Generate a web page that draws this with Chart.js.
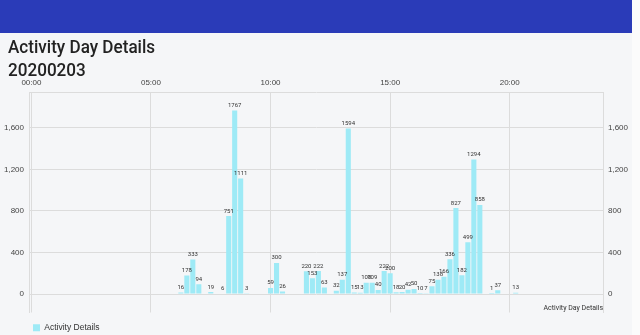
<!DOCTYPE html>
<html lang="en">
  <head>
    <meta charset="UTF-8" />
    <title>Activity Day Details</title>
    <script src="https://cdn.jsdelivr.net/npm/chart.js@4"></script>
    <style>
      * {
        font-family: Roboto, sans-serif;
      }
      html,
      body {
        margin: 0;
        padding: 0;
        width: 640px;
        height: 335px;
        overflow: hidden;
        background: #f5f6f8;
      }
      #topbar {
        position: absolute;
        left: 0;
        top: 0;
        width: 632px;
        height: 33px;
        background: #2a3bb8;
      }
      #side {
        position: absolute;
        right: 0;
        top: 0;
        width: 8px;
        height: 335px;
        background: #fbfbfb;
      }
      h1 {
        position: absolute;
        left: 8px;
        top: 36px;
        margin: 0;
        font-size: 19px;
        line-height: 22.5px;
        font-weight: 500;
        color: #222;
        transform: scaleX(0.9);
        transform-origin: left top;
        z-index: 2;
      }
      #wrap {
        position: absolute;
        left: 0;
        top: 0;
        width: 640px;
        height: 342px;
      }
    </style>
  </head>
  <body>
    <div id="topbar"></div>
    <div id="side"></div>
    <h1>Activity Day Details<br />20200203</h1>
    <div id="wrap"><canvas id="myChart"></canvas></div>
    <script>
      // 15 minute slots that have activity
      const times = [
        "06:15", "06:30", "06:45", "07:00", "07:30", "08:00", "08:15", "08:30",
        "08:45", "09:00", "10:00", "10:15", "10:30", "11:30", "11:45", "12:00",
        "12:15", "12:45", "13:00", "13:15", "13:30", "13:45", "14:00", "14:15",
        "14:30", "14:45", "15:00", "15:15", "15:30", "15:45", "16:00", "16:15",
        "16:30", "16:45", "17:00", "17:15", "17:30", "17:45", "18:00", "18:15",
        "18:30", "18:45", "19:15", "19:30", "20:15",
      ];
      const values = [
        16, 178, 333, 94, 19, 6, 751, 1767,
        1111, 3, 59, 300, 26, 220, 153, 222,
        63, 32, 137, 1594, 15, 13, 108, 109,
        40, 222, 200, 18, 20, 42, 50, 10,
        7, 75, 138, 166, 336, 827, 182, 499,
        1294, 858, 1, 37, 13,
      ];
      const xTickHours = [0, 5, 10, 15, 20];
      const yTicks = [0, 400, 800, 1200, 1600];

      const toHours = (t) => {
        const [h, m] = t.split(":").map(Number);
        return h + m / 60;
      };
      const points = times.map((t, i) => ({ x: toHours(t), y: values[i] }));

      const gridColor = "#dcdcdc";
      const tickColor = "#444";

      // value above every bar
      const barValues = {
        id: "barValues",
        afterDatasetsDraw(chart) {
          const ctx = chart.ctx;
          ctx.save();
          ctx.font = "6px Roboto";
          ctx.fillStyle = "#333";
          ctx.textAlign = "center";
          ctx.textBaseline = "bottom";
          chart.getDatasetMeta(0).data.forEach((bar, i) => {
            ctx.fillText(values[i], bar.x, bar.y - 2);
          });
          ctx.restore();
        },
        afterDraw(chart) {
          // description under the plot, like MPAndroidChart does it
          const ctx = chart.ctx;
          ctx.save();
          ctx.font = "7px Roboto";
          ctx.fillStyle = "#333";
          ctx.textAlign = "right";
          ctx.textBaseline = "alphabetic";
          ctx.fillText("Activity Day Details", chart.chartArea.right, 310);
          ctx.restore();
        },
        afterLayout(chart) {
          chart.legend.left += 22;
        },
      };

      const ctx = document.getElementById("myChart").getContext("2d");
      new Chart(ctx, {
        type: "bar",
        data: {
          datasets: [
            {
              label: "Activity Details",
              data: points,
              backgroundColor: "rgb(158, 234, 246)",
              borderWidth: 0,
              barPercentage: 0.85,
              categoryPercentage: 1,
              yAxisID: "y",
            },
          ],
        },
        plugins: [barValues],
        options: {
          responsive: true,
          maintainAspectRatio: false,
          animation: false,
          layout: { padding: 0 },
          scales: {
            x: {
              type: "linear",
              position: "top",
              min: -0.1,
              max: 23.9,
              offset: false,
              afterFit: (s) => {
                s.height = 92;
              },
              afterBuildTicks: (s) => {
                s.ticks = xTickHours.map((v) => ({ value: v }));
              },
              grid: { color: gridColor, offset: false, drawTicks: false },
              border: { color: gridColor },
              ticks: {
                padding: 4,
                color: tickColor,
                font: { size: 8 },
                maxRotation: 0,
                callback: (v) => String(v).padStart(2, "0") + ":00",
              },
            },
            y: {
              position: "left",
              min: -177,
              max: 1944,
              afterFit: (s) => {
                s.width = 29;
              },
              afterBuildTicks: (s) => {
                s.ticks = yTicks.map((v) => ({ value: v }));
              },
              grid: { color: gridColor, drawTicks: false },
              border: { color: gridColor },
              ticks: {
                padding: 5,
                color: tickColor,
                font: { size: 8 },
                callback: (v) => v.toLocaleString("en-US"),
              },
            },
            y2: {
              position: "right",
              min: -177,
              max: 1944,
              afterFit: (s) => {
                s.width = 37;
              },
              afterBuildTicks: (s) => {
                s.ticks = yTicks.map((v) => ({ value: v }));
              },
              grid: { display: false, drawTicks: false },
              border: { color: gridColor },
              ticks: {
                padding: 5,
                color: tickColor,
                font: { size: 8 },
                callback: (v) => v.toLocaleString("en-US"),
              },
            },
          },
          plugins: {
            legend: {
              position: "bottom",
              align: "start",
              labels: {
                boxWidth: 7,
                boxHeight: 7,
                padding: 11,
                color: "#333",
                font: { size: 8.5 },
              },
            },
            tooltip: { enabled: false },
          },
        },
      });
    </script>
  </body>
</html>
